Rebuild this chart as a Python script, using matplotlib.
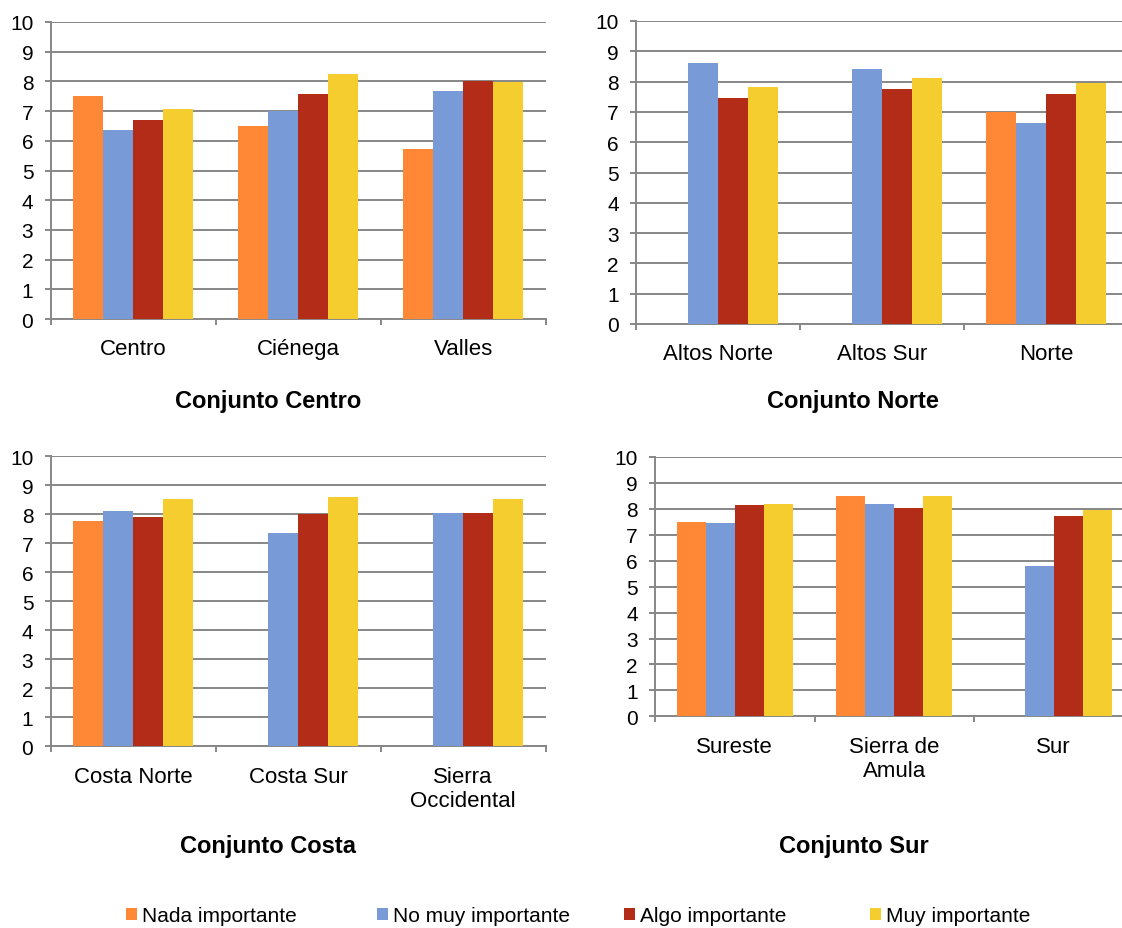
import numpy as np
import matplotlib
matplotlib.use("Agg")
import matplotlib.pyplot as plt
from matplotlib.patches import Patch

plt.rcParams['font.family'] = ['Liberation Sans', 'DejaVu Sans']

series = ["Nada importante", "No muy importante", "Algo importante", "Muy importante"]
colors = ["#FF8837", "#789AD6", "#B22C18", "#F5CD2E"]
nan = np.nan

# Conjunto Centro
centro_cats = ["Centro", "Ciénega", "Valles"]
centro_vals = [
    [7.52, 6.51, 5.74],   # Nada importante
    [6.37, 7.02, 7.67],   # No muy importante
    [6.70, 7.57, 8.03],   # Algo importante
    [7.08, 8.25, 7.99],   # Muy importante
]
# Conjunto Norte
norte_cats = ["Altos Norte", "Altos Sur", "Norte"]
norte_vals = [
    [nan, nan, 6.99],
    [8.63, 8.43, 6.64],
    [7.47, 7.76, 7.60],
    [7.82, 8.11, 7.96],
]
# Conjunto Costa
costa_cats = ["Costa Norte", "Costa Sur", "Sierra\nOccidental"]
costa_vals = [
    [7.77, nan, nan],
    [8.11, 7.37, 8.05],
    [7.90, 8.02, 8.05],
    [8.53, 8.60, 8.53],
]
# Conjunto Sur
sur_cats = ["Sureste", "Sierra de\nAmula", "Sur"]
sur_vals = [
    [7.49, 8.48, nan],
    [7.47, 8.19, 5.78],
    [8.16, 8.02, 7.72],
    [8.17, 8.48, 7.97],
]

W, H = 1122, 929
fig = plt.figure(figsize=(W / 100, H / 100), dpi=100)

def px_axes(x0, ytop, x1, ybot):
    return fig.add_axes([x0 / W, 1 - ybot / H, (x1 - x0) / W, (ybot - ytop) / H])

GRID = "#878787"

def panel(ax, cats, vals, title, title_x, title_y):
    x = np.arange(len(cats))
    w = 0.182
    for i, (name, col) in enumerate(zip(series, colors)):
        ax.bar(x + (i - 1.5) * w, vals[i], width=w, color=col, linewidth=0, zorder=3)
    ax.set_xlim(-0.5, len(cats) - 0.5)
    ax.set_ylim(0, 10)
    ax.set_yticks(range(0, 11))
    ax.yaxis.grid(True, color=GRID, linewidth=1.4, zorder=0)
    ax.set_axisbelow(True)
    for s in ["top", "right"]:
        ax.spines[s].set_visible(False)
    for s in ["left", "bottom"]:
        ax.spines[s].set_color(GRID)
        ax.spines[s].set_linewidth(1.4)
    ax.tick_params(axis="y", length=4, width=1.4, color=GRID, labelsize=15, pad=8.5)
    ax.set_xticks(np.arange(-0.5, len(cats), 1.0))
    ax.set_xticklabels([])
    ax.tick_params(axis="x", which="major", length=4.5, width=1.4, color=GRID)
    ax.set_xticks(x, minor=True)
    ax.set_xticklabels(cats, minor=True)
    ax.tick_params(axis="x", which="minor", length=0, labelsize=16, pad=14)
    fig.text(title_x / W, 1 - title_y / H, title, ha="center", va="baseline",
             fontsize=17, fontweight="bold")

ax1 = px_axes(50.7, 23, 545.7, 320)
panel(ax1, centro_cats, centro_vals, "Conjunto Centro", 268, 408)
ax2 = px_axes(636, 22, 1128, 325)
panel(ax2, norte_cats, norte_vals, "Conjunto Norte", 853, 408)
ax3 = px_axes(50.7, 457.3, 545.7, 747.3)
panel(ax3, costa_cats, costa_vals, "Conjunto Costa", 268, 852.7)
ax4 = px_axes(655, 458, 1133.5, 717.3)
panel(ax4, sur_cats, sur_vals, "Conjunto Sur", 854, 852.7)

legend_x = [126, 377, 624, 870]
for name, col, lx in zip(series, colors, legend_x):
    fig.legend(handles=[Patch(facecolor=col, edgecolor="none")], labels=[name],
               loc="center left", bbox_to_anchor=(lx / W, 1 - 917 / H),
               frameon=False, fontsize=15, handlelength=0.55, handleheight=0.55,
               handletextpad=0.2, borderpad=0, borderaxespad=0)

fig.savefig("out.png", dpi=100)
